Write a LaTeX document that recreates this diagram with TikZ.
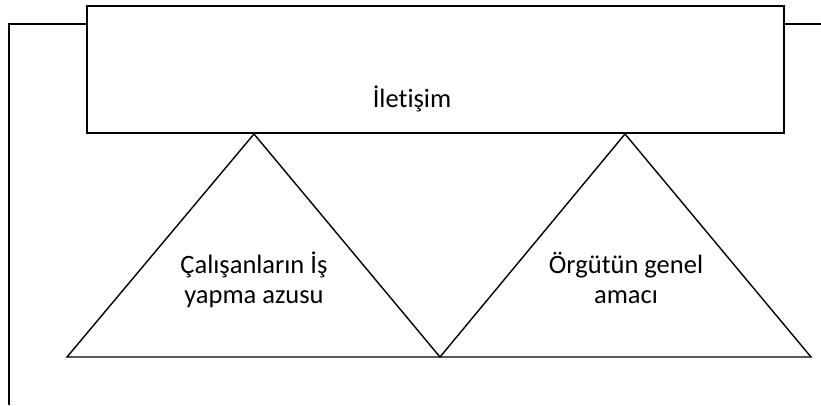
\documentclass[tikz,border=0pt]{standalone}
\usepackage{fontspec}
\setmainfont{Carlito}[Ligatures=NoCommon]
\begin{document}
\begin{tikzpicture}[x=1pt,y=-1pt,
  line/.style={line width=1.6pt,line join=miter},
  thin/.style={line width=1.4pt},
  lbl/.style={font=\fontsize{26.5}{30}\selectfont,align=center,inner sep=0pt}]
\useasboundingbox (0,0) rectangle (821,405);
% coordinates
\coordinate (tl) at (87,6);
\coordinate (br) at (784,133);
\coordinate (lw) at (87,24);
\coordinate (rw) at (784,24);
\coordinate (lc) at (9,24);
\coordinate (lb) at (9,405);
\coordinate (re) at (821,24);
\coordinate (a1) at (254,134);
\coordinate (a2) at (625,134);
\coordinate (b0) at (67,357);
\coordinate (bm) at (440,357);
\coordinate (b2) at (811,357);
% frame lines
\draw[line] (lw) -- (lc) -- (lb);
\draw[line] (rw) -- (re);
% box
\draw[line,fill=white] (tl) rectangle (br);
\node[lbl,anchor=base] (il) at (412,107) {İletişim};
% triangles
\draw[thin,line join=miter] (b0) -- (a1) -- (bm) -- (a2) -- (b2) -- cycle;
\node[lbl,anchor=base] (t1) at (254,303) {Çalışanların İş\\yapma azusu};
\node[lbl,anchor=base] (t2) at (626,303) {Örgütün genel\\amacı};
\end{tikzpicture}
\end{document}
